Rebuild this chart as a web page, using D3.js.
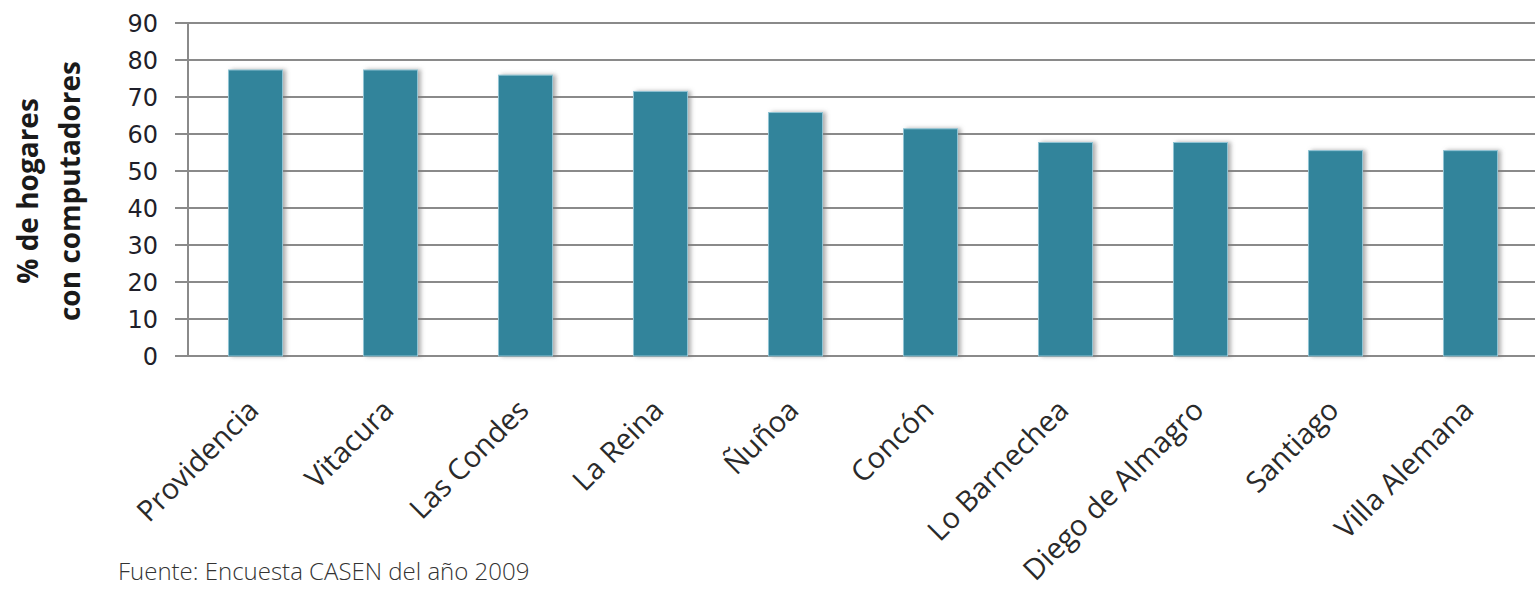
<!DOCTYPE html>
<html lang="es">
  <head>
    <meta charset="utf-8">
    <title>Hogares con computadores</title>
    <script src="https://d3js.org/d3.v7.min.js"></script>
    <style>
      body { margin: 0; background: #fff; }
    </style>
  </head>
  <body>
    <script type="text/javascript">

      var w = 1535;
      var h = 594;
      var margin = {top: 23, right: -3, bottom: 238, left: 188};

      var comunas = ["Providencia", "Vitacura", "Las Condes", "La Reina", "Ñuñoa",
                     "Concón", "Lo Barnechea", "Diego de Almagro", "Santiago", "Villa Alemana"];
      var porcentajes = [77.3, 77.3, 75.9, 71.5, 65.8, 61.4, 57.7, 57.7, 55.5, 55.5];
      var yTicks = [0, 10, 20, 30, 40, 50, 60, 70, 80, 90];

      var svg = d3.select("body")
                  .append("svg")
                  .attr("width", w)
                  .attr("height", h);

      var defs = svg.append("defs");
      var f = defs.append("filter").attr("id", "sombra")
                  .attr("x", "-20%").attr("y", "-5%").attr("width", "150%").attr("height", "110%");
      f.append("feDropShadow")
       .attr("dx", 3).attr("dy", 0).attr("stdDeviation", 2)
       .attr("flood-color", "#7a7a7a").attr("flood-opacity", 0.6);

      var x_scale = d3.scaleBand()
                      .domain(comunas)
                      .range([margin.left, w - margin.right])
                      .paddingInner(0.6)
                      .paddingOuter(0.3);

      var y_scale = d3.scaleLinear()
                      .domain([0, 90])
                      .range([h - margin.bottom, margin.top]);

      // grid lines + ticks on the left
      svg.selectAll("line.grid")
         .data(yTicks)
         .enter()
         .append("line")
         .attr("class", "grid")
         .attr("x1", margin.left - 13)
         .attr("x2", w)
         .attr("y1", d => y_scale(d))
         .attr("y2", d => y_scale(d))
         .attr("stroke", "#8a8a8a")
         .attr("stroke-width", 2);

      // y axis line
      svg.append("line")
         .attr("x1", margin.left).attr("x2", margin.left)
         .attr("y1", y_scale(90)).attr("y2", y_scale(0))
         .attr("stroke", "#8a8a8a")
         .attr("stroke-width", 2);

      svg.selectAll("text.ytick")
         .data(yTicks)
         .enter()
         .append("text")
         .attr("class", "ytick")
         .attr("x", 158)
         .attr("y", d => y_scale(d))
         .attr("dy", "0.36em")
         .attr("text-anchor", "end")
         .attr("font-family", "DejaVu Sans")
         .attr("font-size", 24)
         .attr("fill", "#1f1f2a")
         .text(d => d);

      svg.selectAll("rect.bar")
         .data(porcentajes)
         .enter()
         .append("rect")
         .attr("class", "bar")
         .attr("x", (d, i) => x_scale(comunas[i]))
         .attr("y", d => y_scale(d))
         .attr("width", x_scale.bandwidth())
         .attr("height", d => y_scale(0) - y_scale(d))
         .attr("fill", "#31849b")
         .attr("stroke", "#8fc3d3")
         .attr("stroke-width", 1)
         .attr("filter", "url(#sombra)");

      svg.selectAll("text.xlabel")
         .data(comunas)
         .enter()
         .append("text")
         .attr("class", "xlabel")
         .attr("transform", d => "translate(" + (x_scale(d) + x_scale.bandwidth() / 2 + 5) + "," + 412 + ") rotate(-45)")
         .attr("text-anchor", "end")
         .attr("font-family", "Open Sans")
         .attr("font-size", 29)
         .attr("fill", "#2a2a2a")
         .text(d => d);

      // axis title, two lines
      var titulo = ["% de hogares", "con computadores"];
      svg.selectAll("text.ytitle")
         .data(titulo)
         .enter()
         .append("text")
         .attr("class", "ytitle")
         .attr("transform", (d, i) => "translate(" + (38 + i * 42) + ",191) rotate(-90)")
         .attr("text-anchor", "middle")
         .attr("font-family", "Open Sans")
         .attr("font-weight", "bold")
         .attr("font-size", 28)
         .attr("fill", "#1a1a1a")
         .text(d => d);

      svg.append("text")
         .attr("x", 118)
         .attr("y", 580)
         .attr("font-family", "Open Sans")
         .attr("font-weight", 300)
         .attr("font-size", 24)
         .attr("fill", "#333")
         .text("Fuente: Encuesta CASEN del año 2009");

    </script>
  </body>
</html>
